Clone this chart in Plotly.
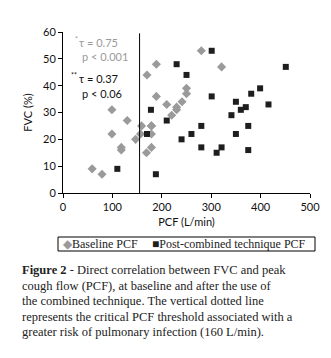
import plotly.graph_objects as go

# Baseline PCF (grey diamonds)
base_pcf = [59, 79, 99, 99, 118, 118, 130, 147, 157, 159, 169, 170, 179, 179, 179, 179,
            189, 189, 210, 220, 230, 230, 241, 250, 250, 280, 321]
base_fvc = [9, 7, 31, 22, 17, 16, 27, 20, 22, 25, 15, 44, 17, 22, 25, 25,
            48, 36, 33, 29, 31, 32, 34, 37, 39, 53, 47]

# Post-combined technique PCF (black squares)
post_pcf = [110, 170, 178, 188, 210, 230, 240, 250, 260, 280, 280, 301, 301, 311, 321,
            341, 350, 350, 360, 370, 375, 375, 381, 399, 416, 451]
post_fvc = [9, 22, 31, 7, 27, 48, 20, 44, 22, 25, 17, 53, 36, 15, 17,
            29, 22, 34, 31, 32, 25, 16, 37, 39, 33, 47]

series_names = ["Baseline PCF", "Post-combined technique PCF"]
threshold_pcf = 155
x_ticks = [0, 100, 200, 300, 400, 500]
y_ticks = [0, 10, 20, 30, 40, 50, 60]

caption_lines = [
    "<b>Figure 2</b> - Direct correlation between FVC and peak",
    "cough flow (PCF), at baseline and after the use of",
    "the combined technique. The vertical dotted line",
    "represents the critical PCF threshold associated with a",
    "greater risk of pulmonary infection (160 L/min).",
]

GREY = "#9a9a9a"
BLACK = "#1e1e1e"

W, H = 331, 358
L, R, T, B = 63, 21, 32, 165
ph = H - T - B
pw = W - L - R

def py(p):
    return (H - B - p) / ph

def px(p):
    return (p - L) / pw

fig = go.Figure()
fig.add_trace(go.Scatter(
    x=base_pcf, y=base_fvc, mode="markers", name=series_names[0],
    marker=dict(symbol="diamond", size=7, color=GREY),
))
fig.add_trace(go.Scatter(
    x=post_pcf, y=post_fvc, mode="markers", name=series_names[1],
    marker=dict(symbol="square", size=6, color=BLACK),
))

fig.add_shape(type="line", x0=threshold_pcf, x1=threshold_pcf, y0=0, y1=59.5,
              xref="x", yref="y", line=dict(color="black", width=1))

tickfont = dict(family="Lato, Open Sans, sans-serif", size=11, color="#111")
fig.update_xaxes(range=[0, 500], tickvals=x_ticks, showline=True, linecolor="black",
                 linewidth=1, ticks="outside", ticklen=4, tickcolor="black",
                 showgrid=False, zeroline=False, tickfont=tickfont,
                 title=dict(text="PCF (L/min)", font=tickfont, standoff=6))
fig.update_yaxes(range=[0, 60], tickvals=y_ticks, showline=True, linecolor="black",
                 linewidth=1, ticks="outside", ticklen=4, tickcolor="black",
                 showgrid=False, zeroline=False, tickfont=tickfont,
                 title=dict(text="FVC (%)", font=tickfont, standoff=8))

ann_font = dict(family="Lato, Open Sans, sans-serif", size=11)
star_font = dict(family="Lato, Open Sans, sans-serif", size=7)
stats = [
    (77, 42, "τ = 0.75", GREY, "*", 73),
    (80, 57, "p < 0.001", GREY, None, None),
    (77, 78, "τ = 0.37", "#111", "**", 69),
    (80, 93, "p < 0.06", "#111", None, None),
]
for x0, y0, txt, col, star, sx in stats:
    fig.add_annotation(x=px(x0), y=py(y0), xref="paper", yref="paper", xanchor="left",
                       yanchor="middle", text=txt, showarrow=False,
                       font=dict(ann_font, color=col))
    if star:
        fig.add_annotation(x=px(sx), y=py(y0 - 3), xref="paper", yref="paper",
                           xanchor="left", yanchor="middle", text=star, showarrow=False,
                           font=dict(star_font, color=col))

cap_font = dict(family="Liberation Serif, serif", size=12.5, color="#222")
for i, line in enumerate(caption_lines):
    fig.add_annotation(x=px(20), y=py(270 + i * 15.5), xref="paper", yref="paper",
                       xanchor="left", yanchor="middle", text=line, showarrow=False,
                       font=cap_font)

# Legend box drawn manually so it stays on one row like the reference
fig.add_shape(type="rect", xref="paper", yref="paper",
              x0=px(58), x1=px(315), y0=py(251), y1=py(237),
              line=dict(color="black", width=1), fillcolor="white")
leg_font = dict(family="Liberation Serif, serif", size=12, color="#222")
fig.add_annotation(x=px(61), y=py(244), xref="paper", yref="paper", xanchor="left",
                   yanchor="middle", showarrow=False, font=leg_font,
                   text=f"<span style='color:{GREY}'>◆</span>{series_names[0]}")
fig.add_annotation(x=px(150), y=py(244), xref="paper", yref="paper", xanchor="left",
                   yanchor="middle", showarrow=False, font=leg_font,
                   text=f"<span style='color:{BLACK}'>■</span>{series_names[1]}")

fig.update_layout(
    width=W, height=H, margin=dict(l=L, r=R, t=T, b=B),
    paper_bgcolor="white", plot_bgcolor="white",
    showlegend=False,
)

fig.write_html("out.html")
